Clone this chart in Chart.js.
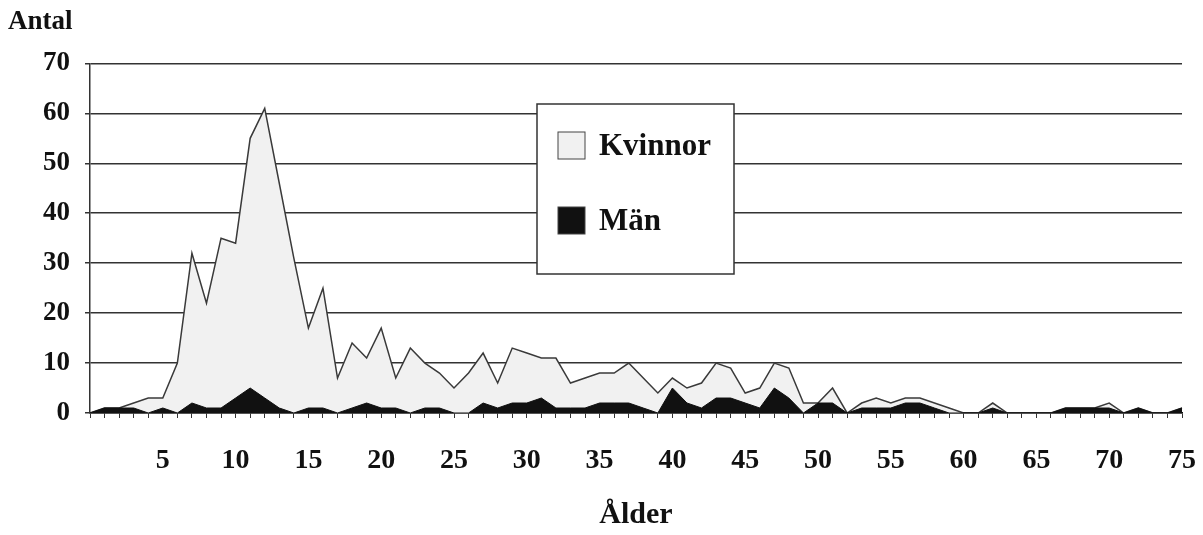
<!DOCTYPE html>
<html>
<head>
<meta charset="utf-8">
<script src="https://cdn.jsdelivr.net/npm/chart.js@4/dist/chart.umd.min.js"></script>
<style>
html,body{margin:0;padding:0;background:#fff;}
#wrap{width:1203px;height:535px;position:relative;}
</style>
</head>
<body>
<div id="wrap"><canvas id="c" width="1203" height="535"></canvas></div>
<script>
const ages = [];
for (let a = 0; a <= 75; a++) ages.push(String(a));
const kvinnor = [0,1,1,2,3,3,10,32,22,35,34,55,61,46,31,17,25,7,14,11,
  17,7,13,10,8,5,8,12,6,13,12,11,11,6,7,8,8,10,7,4,
  7,5,6,10,9,4,5,10,9,2,2,5,0,2,3,2,3,3,2,1,
  0,0,2,0,0,0,0,1,1,1,2,0,1,0,0,1];
const man = [0,1,1,1,0,1,0,2,1,1,3,5,3,1,0,1,1,0,1,2,
  1,1,0,1,1,0,0,2,1,2,2,3,1,1,1,2,2,2,1,0,
  5,2,1,3,3,2,1,5,3,0,2,2,0,1,1,1,2,2,1,0,
  0,0,1,0,0,0,0,1,1,1,1,0,1,0,0,1];
const yTicks = [0,10,20,30,40,50,60,70];
const seriesNames = ['Kvinnor','Män'];

const FONT = '"Liberation Serif", "Times New Roman", serif';

const boxLegend = {
  id: 'boxLegend',
  afterDraw(chart) {
    const ctx = chart.ctx;
    const L = 537, T = 104, W = 197, H = 170;
    ctx.save();
    ctx.fillStyle = '#fff';
    ctx.fillRect(L, T, W, H);
    ctx.strokeStyle = '#333';
    ctx.lineWidth = 1.5;
    ctx.strokeRect(L, T, W, H);
    const rows = [145, 220];
    chart.data.datasets.forEach((ds, i) => {
      const cy = rows[i];
      ctx.fillStyle = ds.backgroundColor;
      ctx.fillRect(558, cy - 13, 27, 27);
      ctx.strokeStyle = '#444';
      ctx.lineWidth = 1;
      ctx.strokeRect(558, cy - 13, 27, 27);
      ctx.fillStyle = '#111';
      ctx.font = 'bold 31px ' + FONT;
      ctx.textBaseline = 'middle';
      ctx.textAlign = 'left';
      ctx.fillText(ds.label, 599, cy + 2);
    });
    ctx.restore();
  }
};

new Chart(document.getElementById('c'), {
  type: 'line',
  data: {
    labels: ages,
    datasets: [
      {
        label: seriesNames[0],
        data: kvinnor,
        backgroundColor: '#f1f1f1',
        borderColor: '#3a3a3a',
        borderWidth: 1.5,
        fill: 'origin',
        pointRadius: 0,
        tension: 0,
        order: 2
      },
      {
        label: seriesNames[1],
        data: man,
        backgroundColor: '#111',
        borderColor: '#111',
        borderWidth: 1,
        fill: 'origin',
        pointRadius: 0,
        tension: 0,
        order: 1
      }
    ]
  },
  options: {
    responsive: false,
    animation: false,
    layout: { padding: { left: 8, right: 21, top: 0, bottom: 0 } },
    plugins: {
      legend: { display: false },
      tooltip: { enabled: false },
      title: {
        display: true,
        text: 'Antal',
        align: 'start',
        color: '#111',
        font: { family: FONT, size: 27, weight: 'bold' },
        padding: { top: 6, bottom: 25 }
      }
    },
    scales: {
      x: {
        type: 'category',
        offset: false,
        afterFit: s => { s.paddingLeft = 0; s.paddingRight = 0; s.height = 122; },
        grid: { display: true, drawOnChartArea: false, drawTicks: true, tickLength: 5, color: '#333', lineWidth: 1 },
        border: { display: true, color: '#111', width: 1.5 },
        ticks: {
          autoSkip: false,
          maxRotation: 0,
          padding: 26,
          color: '#111',
          font: { family: FONT, size: 28, weight: 'bold' },
          callback: function(v, i) { const a = Number(ages[i]); return (a > 0 && a % 5 === 0) ? ages[i] : ''; }
        },
        title: {
          display: true,
          text: 'Ålder',
          color: '#111',
          font: { family: FONT, size: 30, weight: 'bold' },
          padding: { top: 20, bottom: 2 }
        }
      },
      y: {
        min: 0,
        max: 70,
        afterBuildTicks: s => { s.ticks = yTicks.map(v => ({ value: v })); },
        afterFit: s => { s.width = 82; },
        grid: { color: '#333', lineWidth: 1.5, tickLength: 5 },
        border: { display: true, color: '#333', width: 1.5 },
        ticks: {
          padding: 15,
          color: '#111',
          font: { family: FONT, size: 27, weight: 'bold' }
        }
      }
    }
  },
  plugins: [boxLegend]
});
</script>
</body>
</html>
